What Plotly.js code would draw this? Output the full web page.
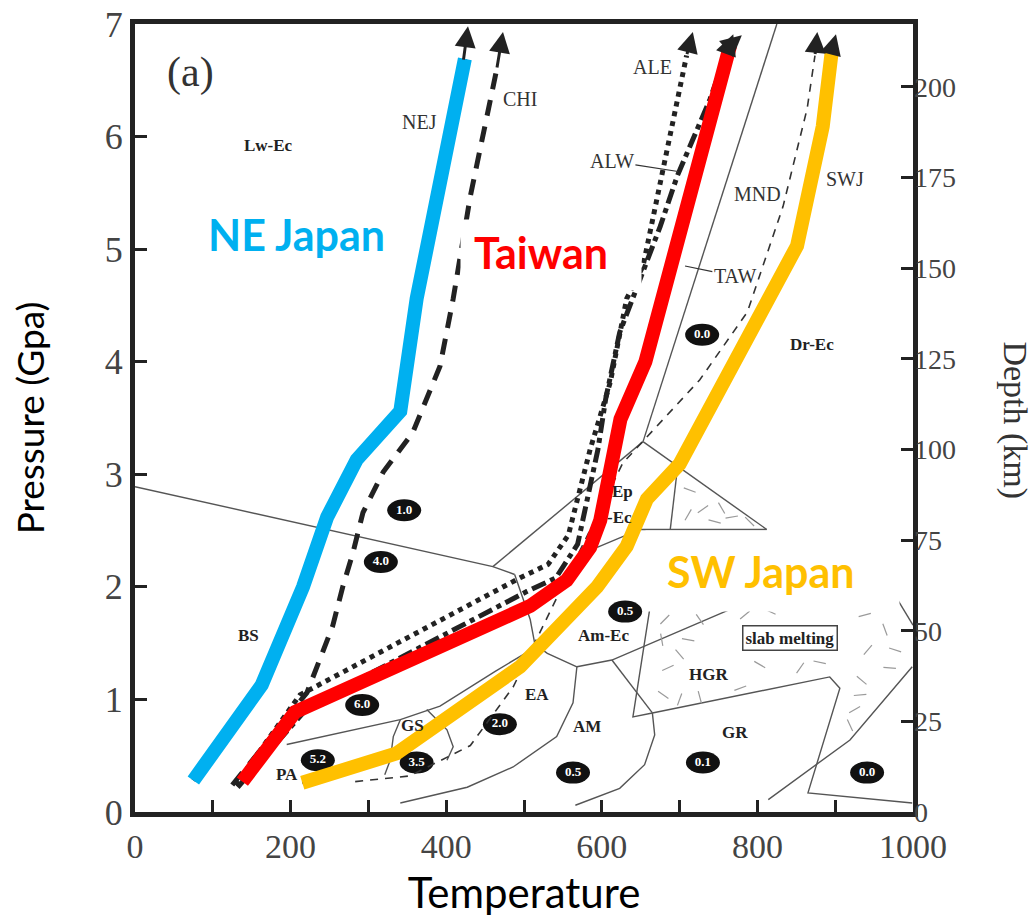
<!DOCTYPE html>
<html><head><meta charset="utf-8">
<script src="https://cdn.plot.ly/plotly-3.0.1.min.js"></script>
<style>html,body{margin:0;padding:0;background:#fff}#chart{width:1036px;height:924px}</style>
</head><body><div id="chart"></div>
<script>
// ---------- P-T paths of subducting slabs (Temperature °C, Pressure GPa) ----------
const tempNEJapan = [75, 163, 216, 231, 247, 285, 341, 362, 424];
const presNEJapan = [0.28, 1.13, 2.00, 2.30, 2.62, 3.13, 3.56, 4.56, 6.69];
const tempTaiwan  = [138, 206, 508, 555, 585, 598, 624, 656, 765];
const presTaiwan  = [0.27, 0.89, 1.83, 2.06, 2.35, 2.59, 3.49, 4.00, 6.81];
const tempSWJapan = [215, 336, 495, 550, 594, 632, 658, 700, 851, 884, 896];
const presSWJapan = [0.26, 0.52, 1.29, 1.71, 2.00, 2.36, 2.78, 3.09, 5.03, 6.09, 6.78];

// original (black) model paths
const tempCHI = [125, 221, 254, 267, 280, 293, 319, 357, 392, 409, 431, 465];
const presCHI = [0.24, 1.06, 1.65, 2.00, 2.30, 2.66, 3.02, 3.37, 3.96, 4.56, 5.47, 6.60];
const tempALE = [129, 212, 495, 531, 557, 569, 585, 611, 632, 653, 679, 709];
const presALE = [0.24, 1.04, 2.08, 2.20, 2.46, 2.78, 3.22, 3.82, 4.56, 4.85, 5.74, 6.72];
const tempALW = [132, 225, 504, 541, 569, 582, 595, 605, 623, 649, 675, 697, 739, 762];
const presALW = [0.22, 0.95, 1.96, 2.08, 2.38, 2.78, 3.22, 3.67, 4.26, 4.73, 5.20, 5.65, 6.33, 6.78];
const tempMND = [283, 353, 431, 486, 627, 726, 787, 833, 864, 874];
const presMND = [0.27, 0.32, 0.59, 1.11, 3.10, 3.84, 4.44, 5.38, 6.25, 6.72];

// ---------- metamorphic facies boundaries ----------
const bd1T = [0, 460, 488],            bd1P = [2.89, 2.18, 2.11];
const bd2T = [460, 653],               bd2P = [2.18, 3.29];
const bd3T = [653, 825],               bd3P = [3.29, 7.0];
const bd4T = [653, 812],               bd4P = [3.29, 2.51];
const bd5T = [697, 688],               bd5P = [3.04, 2.51];
const bd6T = [594, 649, 812],          bd6P = [2.35, 2.51, 2.51];
const bd7T = [488, 508, 514, 530, 568], bd7P = [2.11, 1.71, 1.49, 1.41, 1.29];
const bd8T = [568, 613, 765],          bd8P = [1.29, 1.35, 1.80];
const bd9T = [613, 665],               bd9P = [1.35, 0.88];
const bd10T = [662, 640, 665],         bd10P = [1.82, 0.845, 0.88];
const bd11T = [665, 893, 906, 865, 999], bd11P = [0.88, 1.20, 1.10, 0.17, 0.08];
const bd12T = [665, 668, 655, 623, 566], bd12P = [0.88, 0.685, 0.42, 0.21, 0.06];
const bd13T = [814, 919, 999],         bd13P = [0.11, 0.64, 1.29];
const bd14T = [979, 1000],             bd14P = [1.90, 1.66];
const bd15T = [568, 563, 542, 486, 427, 341], bd15P = [1.29, 0.97, 0.67, 0.40, 0.22, 0.08];
const bd16T = [195, 341, 392, 463, 514], bd16P = [0.60, 0.82, 0.94, 1.25, 1.46];
const bd17T = [341, 332, 328, 321],    bd17P = [0.82, 0.67, 0.46, 0.33];
const bd18T = [375, 401, 409, 401],    bd18P = [0.91, 0.73, 0.58, 0.46];

// slab-melting texture marks
const meltT = [713, 730, 754, 767, 790, 711, 745, 677, 685, 679, 700, 711, 726, 784, 816, 938, 964, 942, 970, 934,
               925, 919, 932, 803, 855, 880, 726, 778, 700, 681, 977];
const meltP = [2.86, 2.69, 2.70, 2.62, 2.58, 2.64, 2.58, 1.53, 1.28, 1.04, 1.00, 1.53, 1.71, 1.75, 1.78, 1.75, 1.62, 1.44, 1.28, 1.17,
               0.91, 0.77, 1.04, 1.31, 1.28, 1.33, 1.02, 1.10, 1.40, 1.71, 1.44];
const meltAngle = [20, -35, 60, -10, 45, -60, 15, 80, -25, 35, -70, 10, 55, -40, 25, -15, 70, -50, 5, 40,
                   -30, 65, -5, 30, -55, 12, 75, -20, 50, -45, 18];

// H2O content labels (wt%)
const waterT = [346, 316, 292, 235, 362, 469, 563, 730, 941, 630, 729];
const waterP = [2.68, 2.22, 0.95, 0.46, 0.44, 0.78, 0.35, 0.44, 0.35, 1.78, 4.24];
const waterLabel = ['1.0', '4.0', '6.0', '5.2', '3.5', '2.0', '0.5', '0.1', '0.0', '0.5', '0.0'];

// facies names
const faciesT = [171, 146, 870, 627, 623, 602, 737, 771, 581, 517, 357, 195];
const faciesP = [5.92, 1.57, 4.15, 2.85, 2.62, 1.57, 1.22, 0.71, 0.76, 1.04, 0.77, 0.33];
const faciesLabel = ['Lw-Ec', 'BS', 'Dr-Ec', 'Ep', '-Ec', 'Am-Ec', 'HGR', 'GR', 'AM', 'EA', 'GS', 'PA'];

// path names
const pathT = [366, 495, 665, 800, 913];
const pathP = [6.13, 6.33, 6.62, 5.49, 5.62];
const pathLabel = ['NEJ', 'CHI', 'ALE', 'MND', 'SWJ'];

// arrow heads at the top of each path: tip and tail
const arrowTipT  = [428, 473, 717, 769, 780, 877, 901];
const arrowTipP  = [6.98, 6.93, 6.93, 6.91, 6.90, 6.93, 6.91];
const arrowTailT = [422, 465, 709, 762, 765, 874, 896];
const arrowTailP = [6.67, 6.60, 6.72, 6.78, 6.81, 6.72, 6.78];

const xTicks = [0, 100, 200, 300, 400, 500, 600, 700, 800, 900, 1000];
const xTickText = ['0', '', '200', '', '400', '', '600', '', '800', '', '1000'];
const yTicks = [0, 1, 2, 3, 4, 5, 6, 7];
const depthTicks = [0, 25, 50, 75, 100, 125, 150, 175, 200];
const KM_PER_GPA = 31.05;

const SERIF = 'Liberation Serif, Times New Roman, serif';
const SANS = 'Lato, Open Sans, sans-serif';
const INK = '#222';

const traces = [];
const bounds = [[bd1T,bd1P],[bd2T,bd2P],[bd3T,bd3P],[bd4T,bd4P],[bd5T,bd5P],[bd6T,bd6P],[bd7T,bd7P],[bd8T,bd8P],
  [bd9T,bd9P],[bd10T,bd10P],[bd11T,bd11P],[bd12T,bd12P],[bd13T,bd13P],[bd14T,bd14P],[bd15T,bd15P],[bd16T,bd16P],
  [bd17T,bd17P],[bd18T,bd18P]];
bounds.forEach(b => traces.push({x: b[0], y: b[1], mode: 'lines', line: {color: '#555', width: 1.4}, hoverinfo: 'skip'}));

traces.push({x: tempMND, y: presMND, mode: 'lines', line: {color: '#333', width: 1.6, dash: '8px,7px'}});
traces.push({x: meltT, y: meltP, mode: 'markers',
  marker: {symbol: 'line-ew', size: 9, angle: meltAngle, color: '#999', line: {color: '#9a9a9a', width: 1.2}}});
traces.push({x: waterT, y: waterP, mode: 'text', text: waterLabel.map(s => '<b>' + s + '</b>'),
  textfont: {family: SERIF, size: 13, color: '#fff'}, textposition: 'middle center'});

// black model paths
traces.push({x: tempNEJapan, y: presNEJapan, mode: 'lines', line: {color: INK, width: 5}});
traces.push({x: tempCHI, y: presCHI, mode: 'lines', line: {color: INK, width: 5, dash: '16px,11px'}});
traces.push({x: tempALE, y: presALE, mode: 'lines', line: {color: INK, width: 5, dash: 'dot'}});
traces.push({x: tempALW, y: presALW, mode: 'lines', line: {color: INK, width: 5, dash: 'dashdot'}});
traces.push({x: tempTaiwan, y: presTaiwan, mode: 'lines', line: {color: INK, width: 4}});
traces.push({x: tempSWJapan, y: presSWJapan, mode: 'lines', line: {color: INK, width: 3, dash: '10px,8px'}});

// coloured paths
traces.push({x: tempNEJapan, y: presNEJapan, mode: 'lines', line: {color: '#00B0F0', width: 14}});
traces.push({x: tempTaiwan, y: presTaiwan, mode: 'lines', line: {color: '#FF0000', width: 14}});
traces.push({x: tempSWJapan, y: presSWJapan, mode: 'lines', line: {color: '#FFC000', width: 14}});

// depth axis carrier
traces.push({x: [0], y: [0], yaxis: 'y2', mode: 'markers', marker: {opacity: 0}, hoverinfo: 'skip'});

const shapes = waterT.map((t, i) => ({type: 'circle', xref: 'x', yref: 'y', xsizemode: 'pixel', ysizemode: 'pixel',
  xanchor: t, yanchor: waterP[i], x0: -17, x1: 17, y0: -11, y1: 11, fillcolor: '#111', line: {width: 0}, layer: 'below'}));

const annotations = [];
arrowTipT.forEach((t, i) => annotations.push({x: t, y: arrowTipP[i], ax: arrowTailT[i], ay: arrowTailP[i],
  xref: 'x', yref: 'y', axref: 'x', ayref: 'y', text: '', showarrow: true, arrowhead: 2, arrowsize: 1.4,
  arrowwidth: 3, arrowcolor: INK, standoff: 0}));
faciesT.forEach((t, i) => annotations.push({x: t, y: faciesP[i], xref: 'x', yref: 'y', showarrow: false,
  text: '<b>' + faciesLabel[i] + '</b>', font: {family: SERIF, size: 17, color: '#222'}}));
pathT.forEach((t, i) => annotations.push({x: t, y: pathP[i], xref: 'x', yref: 'y', showarrow: false,
  text: pathLabel[i], font: {family: SERIF, size: 20, color: '#333'}}));
// labels with leader lines
annotations.push({x: 698, y: 5.69, ax: 613, ay: 5.78, xref: 'x', yref: 'y', axref: 'x', ayref: 'y', text: 'ALW',
  showarrow: true, arrowhead: 0, arrowwidth: 1.2, arrowcolor: '#333', font: {family: SERIF, size: 20, color: '#333'}});
annotations.push({x: 707, y: 4.85, ax: 771, ay: 4.76, xref: 'x', yref: 'y', axref: 'x', ayref: 'y', text: 'TAW',
  showarrow: true, arrowhead: 0, arrowwidth: 1.2, arrowcolor: '#333', font: {family: SERIF, size: 20, color: '#333'}});
annotations.push({x: 842, y: 1.55, xref: 'x', yref: 'y', showarrow: false, text: '<b>slab melting</b>',
  font: {family: SERIF, size: 17, color: '#222'}, bgcolor: '#fff', bordercolor: '#444', borderwidth: 1.5, borderpad: 2});
annotations.push({x: 71, y: 6.57, xref: 'x', yref: 'y', showarrow: false, text: '(a)',
  font: {family: SERIF, size: 42, color: '#333'}});
// white backing boxes of the highlighted labels
annotations.push({x: 535, y: 4.95, xref: 'x', yref: 'y', showarrow: false, text: ' ',
  bgcolor: '#fff', width: 178, height: 68});
annotations.push({x: 819, y: 2.14, xref: 'x', yref: 'y', showarrow: false, text: ' ',
  bgcolor: '#fff', width: 251, height: 78});
// highlighted region labels
annotations.push({x: 208, y: 5.13, xref: 'x', yref: 'y', showarrow: false, text: '<b>NE Japan</b>',
  font: {family: SANS, size: 43, color: '#00B0F0'}});
annotations.push({x: 522, y: 4.97, xref: 'x', yref: 'y', showarrow: false, text: '<b>Taiwan</b>',
  font: {family: SANS, size: 43, color: '#FF0000'}});
annotations.push({x: 805, y: 2.135, xref: 'x', yref: 'y', showarrow: false, text: '<b>SW Japan</b>',
  font: {family: SANS, size: 43, color: '#FFC000'}});
// right axis title
annotations.push({x: 1.131, y: 0.497, xref: 'paper', yref: 'paper', xanchor: 'center', yanchor: 'middle',
  showarrow: false, text: 'Depth (km)', textangle: 90, font: {family: SERIF, size: 34, color: '#333'}});

const layout = {
  width: 1036, height: 924,
  margin: {l: 135, r: 123, t: 24, b: 112},
  paper_bgcolor: '#fff', plot_bgcolor: '#fff',
  showlegend: false, hovermode: false,
  xaxis: {range: [0, 1000], tickvals: xTicks, ticktext: xTickText, ticks: 'inside', ticklen: 12, tickwidth: 3,
    tickcolor: INK, showline: true, linewidth: 5, linecolor: INK, mirror: true, showgrid: false, zeroline: false,
    tickfont: {family: SERIF, size: 34, color: '#444'},
    title: {text: 'Temperature', font: {family: SANS, size: 42, color: '#000'}, standoff: 16}},
  yaxis: {range: [0, 7], tickvals: yTicks, ticks: 'inside', ticklen: 12, tickwidth: 3, tickcolor: INK,
    showline: true, linewidth: 5, linecolor: INK, mirror: true, showgrid: false, zeroline: false,
    tickfont: {family: SERIF, size: 36, color: '#444'},
    title: {text: 'Pressure (Gpa)', font: {family: SANS, size: 37, color: '#000'}, standoff: 50}},
  yaxis2: {overlaying: 'y', side: 'right', range: [0, 7 * KM_PER_GPA], tickvals: depthTicks, ticks: 'inside',
    ticklen: 12, tickwidth: 3, tickcolor: INK, showline: false, showgrid: false, zeroline: false,
    tickfont: {family: SERIF, size: 28, color: '#444'}},
  shapes: shapes,
  annotations: annotations
};
Plotly.newPlot('chart', traces, layout, {staticPlot: true, displayModeBar: false});
</script></body></html>
